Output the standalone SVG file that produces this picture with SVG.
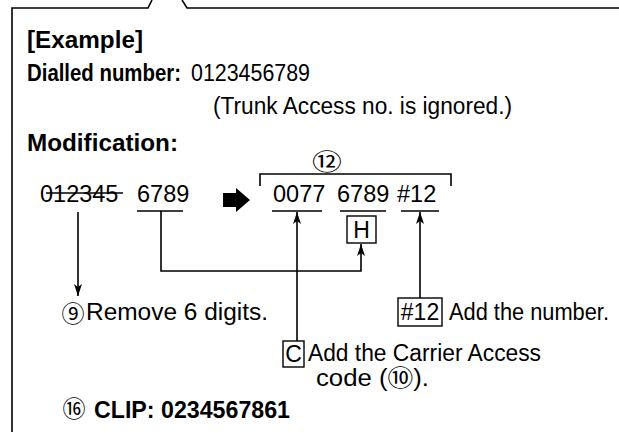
<svg xmlns="http://www.w3.org/2000/svg" width="619" height="432" viewBox="0 0 619 432">
<style>
text{font-family:"Liberation Sans",Arial,sans-serif;fill:#000;font-size:23px}
.b{font-weight:bold;font-size:23.5px}
.n{font-size:23.5px}
.c{font-family:"Noto Sans CJK JP",sans-serif}
.ln{stroke:#000;stroke-width:1.6;fill:none}
.bx{stroke:#000;stroke-width:1.4;fill:#fff}
</style>
<defs>
<marker id="ah" viewBox="0 0 12 8" refX="12" refY="4" markerWidth="12" markerHeight="8" markerUnits="userSpaceOnUse" orient="auto">
<path d="M0,0 L12,4 L0,8 L3,4 z" fill="#000"/>
</marker>
</defs>
<g id="frame">
<path class="ln" d="M12 432 V8 H148 L152 0 M182 0 L187 8 H619"/>
</g>
<g id="header">
<text class="b" x="27" y="48" textLength="116" lengthAdjust="spacingAndGlyphs">[Example]</text>
<text class="b" x="27" y="81" textLength="154" lengthAdjust="spacingAndGlyphs">Dialled number:</text>
<text x="191" y="81" textLength="119" lengthAdjust="spacingAndGlyphs">0123456789</text>
<text x="213" y="114" textLength="299" lengthAdjust="spacingAndGlyphs">(Trunk Access no. is ignored.)</text>
<text class="b" x="27" y="151" textLength="151" lengthAdjust="spacingAndGlyphs">Modification:</text>
</g>
<g id="connectors">
<path class="ln" d="M46 193 H123"/>
<path class="ln" d="M137 211 H183 M272 211 H322 M340 211 H386 M401 211 H439"/>
<path class="ln" d="M260 186 V174 H451 V186"/>
<polygon points="223,193 236,193 236,188 250,200 236,212 236,207 223,207" fill="#000"/>
<path class="ln" d="M78 212 V296" marker-end="url(#ah)"/>
<path class="ln" d="M161 211 V271 H361 V244" marker-end="url(#ah)"/>
<path class="ln" d="M297 341 V212" marker-end="url(#ah)"/>
<path class="ln" d="M420 298 V212" marker-end="url(#ah)"/>
</g>
<g id="original-number">
<text class="n" x="40" y="202">012345</text>
<text class="n" x="137" y="202">6789</text>
</g>
<g id="modified-number">
<text class="c" transform="translate(327,160) scale(1.3,1)" x="0" y="10" text-anchor="middle" font-size="27">⑫</text>
<text class="n" x="273" y="202">0077</text>
<text class="n" x="337" y="202">6789</text>
<text class="n" x="397" y="202">#12</text>
</g>
<g id="h-box">
<rect class="bx" x="347" y="216" width="29" height="27"/>
<text x="361.5" y="238" text-anchor="middle">H</text>
</g>
<g id="remove-note">
<text class="c" x="73" y="321.5" text-anchor="middle" font-size="23">⑨</text>
<text x="86" y="320" textLength="182" lengthAdjust="spacingAndGlyphs">Remove 6 digits.</text>
</g>
<g id="add-number-note">
<rect class="bx" x="398" y="298" width="44" height="28"/>
<text x="420" y="320" text-anchor="middle">#12</text>
<text x="449" y="320" textLength="160" lengthAdjust="spacingAndGlyphs">Add the number.</text>
</g>
<g id="carrier-note">
<rect class="bx" x="283" y="341" width="21" height="26"/>
<text x="293.5" y="362" text-anchor="middle">C</text>
<text x="308" y="361" textLength="233" lengthAdjust="spacingAndGlyphs">Add the Carrier Access</text>
<text x="316" y="386" textLength="113" lengthAdjust="spacingAndGlyphs">code (<tspan class="c" font-size="23">⑩</tspan>).</text>
</g>
<g id="clip">
<text class="c" x="74" y="416.5" text-anchor="middle" font-size="24">⑯</text>
<text class="b" x="94" y="418" textLength="196" lengthAdjust="spacingAndGlyphs">CLIP: 0234567861</text>
</g>
</svg>
